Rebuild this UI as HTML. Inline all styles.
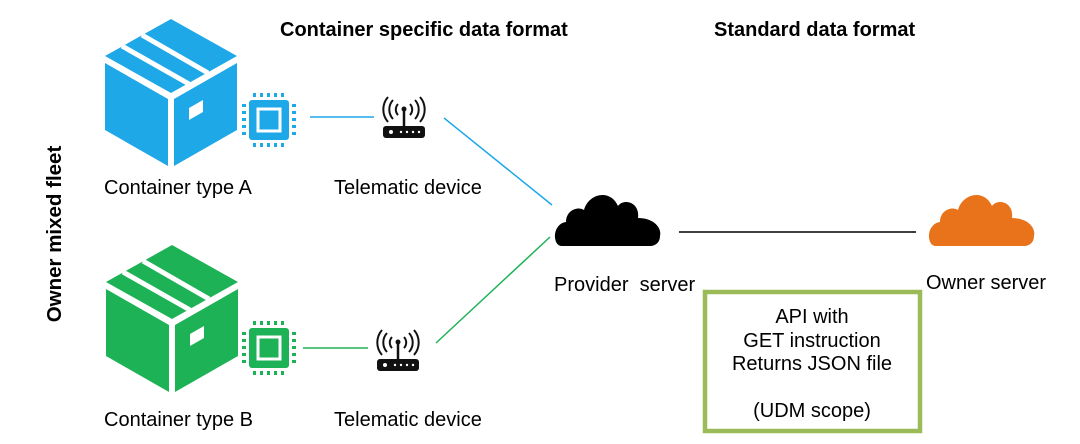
<!DOCTYPE html>
<html><head><meta charset="utf-8"><style>
html,body{margin:0;padding:0;background:#fff;}
svg{display:block;font-family:"Liberation Sans",Arial,sans-serif;}
</style></head><body>
<svg width="1080" height="444" viewBox="0 0 1080 444" xmlns="http://www.w3.org/2000/svg">
<defs>
<g id="cube">
  <polygon points="0,40 66,3 132,40 66,77"/>
  <polygon points="0,47 63,83 63,150 0,114"/>
  <polygon points="69,83 132,47 132,114 69,150"/>
  <line x1="17" y1="30" x2="84" y2="68" stroke="#fff" stroke-width="5"/>
  <line x1="37" y1="19" x2="103" y2="57" stroke="#fff" stroke-width="5"/>
  <polygon points="84,92 98,84 98,96 84,104" fill="#fff"/>
</g>
<g id="chip">
  <rect x="-20" y="-20" width="40" height="40" rx="3"/>
  <rect x="-11" y="-11" width="22" height="22" fill="none" stroke="#fff" stroke-width="3"/>
  <g>
    <rect x="-16" y="-27" width="3" height="4"/><rect x="-9" y="-27" width="3" height="4"/><rect x="-2" y="-27" width="3" height="4"/><rect x="5" y="-27" width="3" height="4"/><rect x="12" y="-27" width="3" height="4"/>
    <rect x="-16" y="23" width="3" height="4"/><rect x="-9" y="23" width="3" height="4"/><rect x="-2" y="23" width="3" height="4"/><rect x="5" y="23" width="3" height="4"/><rect x="12" y="23" width="3" height="4"/>
    <rect x="-27" y="-16" width="4" height="3"/><rect x="-27" y="-9" width="4" height="3"/><rect x="-27" y="-2" width="4" height="3"/><rect x="-27" y="5" width="4" height="3"/><rect x="-27" y="12" width="4" height="3"/>
    <rect x="23" y="-16" width="4" height="3"/><rect x="23" y="-9" width="4" height="3"/><rect x="23" y="-2" width="4" height="3"/><rect x="23" y="5" width="4" height="3"/><rect x="23" y="12" width="4" height="3"/>
  </g>
</g>
<g id="router">
  <rect x="-21" y="8" width="42" height="12" rx="3" fill="#111"/>
  <circle cx="-13" cy="14" r="2" fill="#fff"/>
  <circle cx="-3" cy="14" r="1.2" fill="#fff"/><circle cx="3" cy="14" r="1.2" fill="#fff"/><circle cx="9" cy="14" r="1.2" fill="#fff"/><circle cx="15" cy="14" r="1.2" fill="#fff"/>
  <line x1="0" y1="-8" x2="0" y2="8" stroke="#111" stroke-width="2.5"/>
  <circle cx="0" cy="-9" r="2.5" fill="#111"/>
  <g fill="none" stroke="#111" stroke-width="2">
    <path d="M-6,-14 A8,8 0 0 0 -6,-3"/><path d="M6,-14 A8,8 0 0 1 6,-3"/>
    <path d="M-11,-18 A14,14 0 0 0 -11,1"/><path d="M11,-18 A14,14 0 0 1 11,1"/>
    <path d="M-16,-21 A19,19 0 0 0 -16,4"/><path d="M16,-21 A19,19 0 0 1 16,4"/>
  </g>
</g>
<path id="cloud" d="M8,58 C-2,58 -2,36 12,34 C12,22 24,18 30,22 C34,6 56,0 64,18 C70,10 86,14 84,30 C100,30 108,40 106,48 C106,54 102,58 96,58 Z"/>
</defs>

<text x="280" y="36" font-size="20" font-weight="bold" fill="#000">Container specific data format</text>
<text x="714" y="36" font-size="20" font-weight="bold" fill="#000">Standard data format</text>
<text transform="translate(61,234) rotate(-90)" text-anchor="middle" font-size="20.5" font-weight="bold" fill="#000">Owner mixed fleet</text>

<g fill="#1ea8e8" transform="translate(105,16)"><use href="#cube"/></g>
<g fill="#1ea8e8" transform="translate(269,120)"><use href="#chip"/></g>
<line x1="310" y1="117" x2="374" y2="117" stroke="#1ea8e8" stroke-width="1.5"/>
<g transform="translate(404,118)"><use href="#router"/></g>
<line x1="444" y1="118" x2="552" y2="205" stroke="#1ea8e8" stroke-width="1.5"/>
<text x="104" y="194" font-size="20">Container type A</text>
<text x="334" y="194" font-size="20">Telematic device</text>

<g fill="#1eb257" transform="translate(106,242)"><use href="#cube"/></g>
<g fill="#1eb257" transform="translate(269,348)"><use href="#chip"/></g>
<line x1="303" y1="348" x2="368" y2="348" stroke="#1eb257" stroke-width="1.5"/>
<g transform="translate(398,351)"><use href="#router"/></g>
<line x1="436" y1="343" x2="550" y2="237" stroke="#1eb257" stroke-width="1.5"/>
<text x="104" y="426" font-size="20">Container type B</text>
<text x="334" y="426" font-size="20">Telematic device</text>

<g fill="#000" transform="translate(554,188)"><use href="#cloud"/></g>
<line x1="679" y1="232" x2="916" y2="232" stroke="#000" stroke-width="1.5"/>
<g fill="#e8731a" transform="translate(928,188)"><use href="#cloud"/></g>
<text x="554" y="291" font-size="20">Provider&#160; server</text>
<text x="926" y="289" font-size="20">Owner server</text>

<rect x="705" y="292" width="215" height="139" fill="none" stroke="#9bbb59" stroke-width="4.5"/>
<g font-size="20" text-anchor="middle">
<text x="812" y="323">API with</text>
<text x="812" y="347">GET instruction</text>
<text x="812" y="370">Returns JSON file</text>
<text x="812" y="417">(UDM scope)</text>
</g>
</svg>
</body></html>
